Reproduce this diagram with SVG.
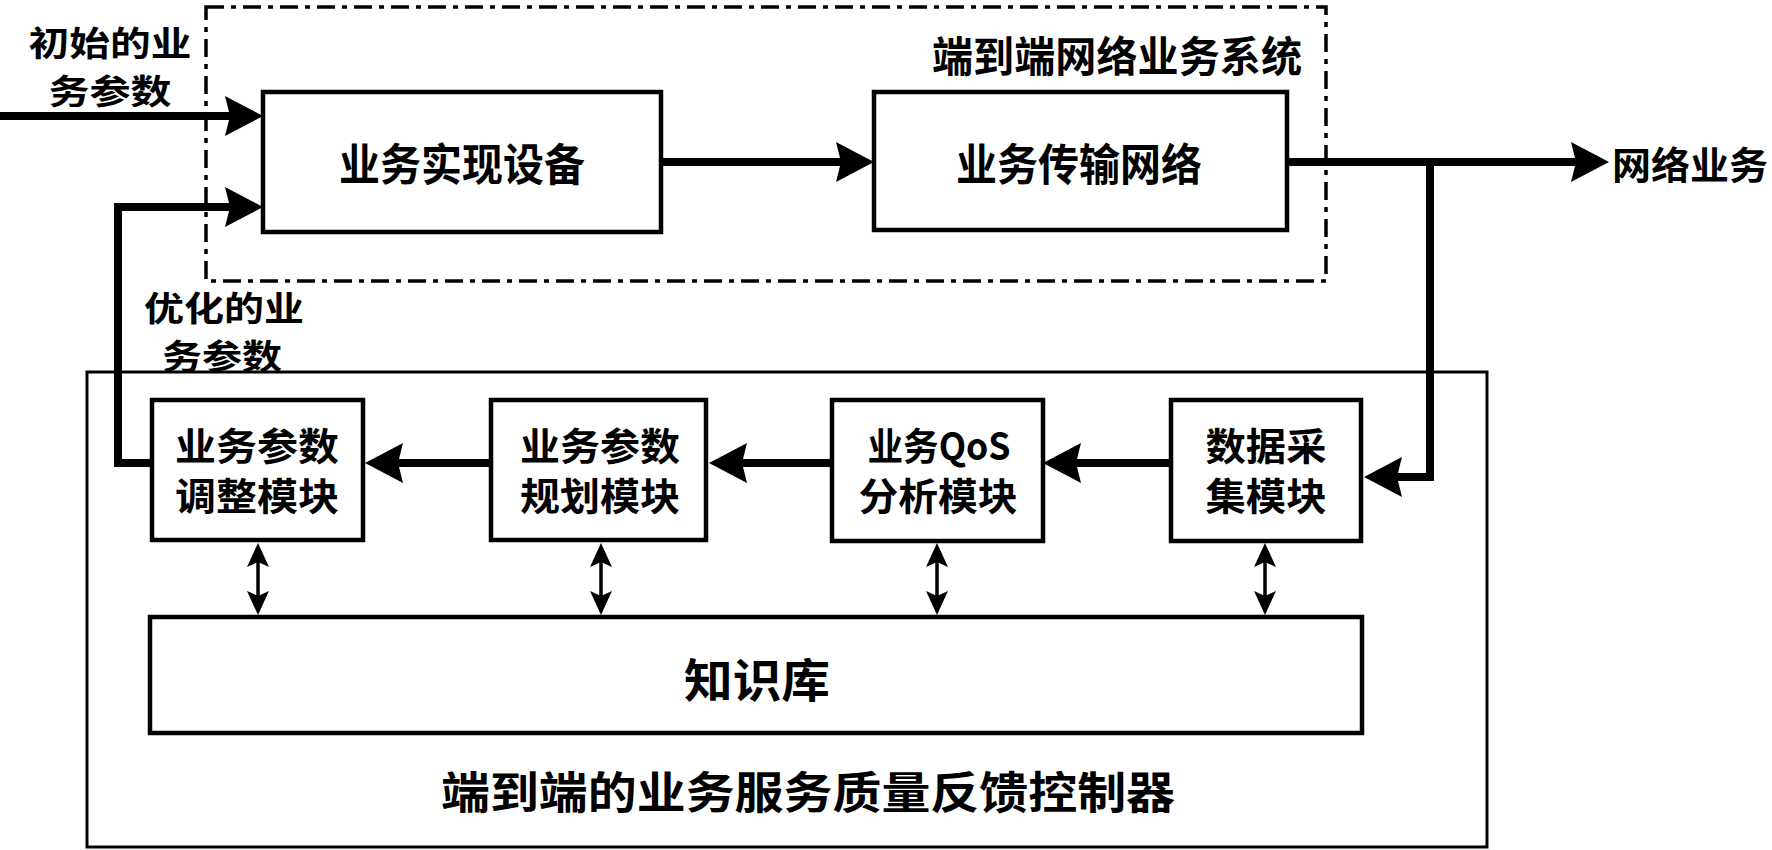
<svg xmlns="http://www.w3.org/2000/svg" width="1772" height="850" viewBox="0 0 1772 850">
<style>
text{font-family:"Noto Sans CJK SC","Liberation Sans",sans-serif;font-weight:bold;fill:#000;text-anchor:middle;dominant-baseline:central}
.box{fill:#fff;stroke:#000;stroke-width:4.5}
.thick{fill:none;stroke:#000;stroke-width:8;stroke-linejoin:miter}
.thin{fill:none;stroke:#000;stroke-width:3.5}
</style>
<defs>
<marker id="big" markerUnits="userSpaceOnUse" viewBox="-40 -22 42 44" markerWidth="42" markerHeight="44" refX="-33" refY="0" orient="auto">
<path d="M0,0 L-38,-20 L-33,0 L-38,20 Z" fill="#000"/>
</marker>
<marker id="sm" markerUnits="userSpaceOnUse" viewBox="-26 -13 28 26" markerWidth="28" markerHeight="26" refX="-18" refY="0" orient="auto-start-reverse">
<path d="M0,0 L-24,-11 L-19,0 L-24,11 Z" fill="#000"/>
</marker>
</defs>
<rect width="1772" height="850" fill="#fff"/>

<g id="system">
<rect x="206" y="7" width="1120" height="274" fill="none" stroke="#000" stroke-width="3.5" stroke-dasharray="18 7 5 7"/>
<text x="1117" y="53" font-size="42" textLength="370" lengthAdjust="spacingAndGlyphs">端到端网络业务系统</text>
</g>

<g id="controller">
<rect x="87" y="372" width="1400" height="475" fill="none" stroke="#000" stroke-width="3"/>
<text x="808" y="790" font-size="44" textLength="734" lengthAdjust="spacingAndGlyphs">端到端的业务服务质量反馈控制器</text>
</g>

<g id="connectors">
<path class="thick" d="M0,116 L230,116" marker-end="url(#big)"/>
<path class="thick" d="M152,463 L118,463 L118,207 L230,207" marker-end="url(#big)"/>
<path class="thick" d="M661,162 L841,162" marker-end="url(#big)"/>
<path class="thick" d="M1287,162 L1576,162" marker-end="url(#big)"/>
<path class="thick" d="M1430,162 L1430,477 L1397,477" marker-end="url(#big)"/>
<path class="thick" d="M1171,463 L1076,463" marker-end="url(#big)"/>
<path class="thick" d="M832,463 L742,463" marker-end="url(#big)"/>
<path class="thick" d="M491,463 L398,463" marker-end="url(#big)"/>
<path class="thin" d="M258,561 L258,597" marker-start="url(#sm)" marker-end="url(#sm)"/>
<path class="thin" d="M601,561 L601,597" marker-start="url(#sm)" marker-end="url(#sm)"/>
<path class="thin" d="M937,561 L937,597" marker-start="url(#sm)" marker-end="url(#sm)"/>
<path class="thin" d="M1265,561 L1265,597" marker-start="url(#sm)" marker-end="url(#sm)"/>
</g>

<g id="label-in">
<text x="110" y="41" font-size="34" textLength="163" lengthAdjust="spacingAndGlyphs">初始的业</text>
<text x="110" y="89" font-size="34" textLength="123" lengthAdjust="spacingAndGlyphs">务参数</text>
</g>
<g id="label-opt">
<text x="224" y="306" font-size="34" textLength="160" lengthAdjust="spacingAndGlyphs">优化的业</text>
<text x="222" y="354" font-size="34" textLength="120" lengthAdjust="spacingAndGlyphs">务参数</text>
</g>
<g id="label-out">
<text x="1612" y="162" font-size="38" style="text-anchor:start" textLength="156" lengthAdjust="spacingAndGlyphs">网络业务</text>
</g>

<g id="device">
<rect class="box" x="263" y="92" width="398" height="140"/>
<text x="462" y="162" font-size="44" textLength="246" lengthAdjust="spacingAndGlyphs">业务实现设备</text>
</g>
<g id="network">
<rect class="box" x="874" y="92" width="413" height="138"/>
<text x="1079" y="162" font-size="44" textLength="246" lengthAdjust="spacingAndGlyphs">业务传输网络</text>
</g>

<g id="adjust">
<rect class="box" x="152" y="400" width="211" height="140"/>
<text x="257" y="443" font-size="38" textLength="164" lengthAdjust="spacingAndGlyphs">业务参数</text>
<text x="257" y="493" font-size="38" textLength="164" lengthAdjust="spacingAndGlyphs">调整模块</text>
</g>
<g id="plan">
<rect class="box" x="491" y="400" width="215" height="140"/>
<text x="600" y="443" font-size="38" textLength="160" lengthAdjust="spacingAndGlyphs">业务参数</text>
<text x="600" y="493" font-size="38" textLength="160" lengthAdjust="spacingAndGlyphs">规划模块</text>
</g>
<g id="qos">
<rect class="box" x="832" y="400" width="211" height="141"/>
<text x="939" y="443" font-size="38" textLength="143" lengthAdjust="spacingAndGlyphs">业务QoS</text>
<text x="938" y="493" font-size="38" textLength="159" lengthAdjust="spacingAndGlyphs">分析模块</text>
</g>
<g id="collect">
<rect class="box" x="1171" y="400" width="190" height="141"/>
<text x="1266" y="443" font-size="38" textLength="121" lengthAdjust="spacingAndGlyphs">数据采</text>
<text x="1266" y="493" font-size="38" textLength="121" lengthAdjust="spacingAndGlyphs">集模块</text>
</g>

<g id="kb">
<rect class="box" x="150" y="617" width="1212" height="116"/>
<text x="757" y="677" font-size="46" textLength="146" lengthAdjust="spacingAndGlyphs">知识库</text>
</g>
</svg>
